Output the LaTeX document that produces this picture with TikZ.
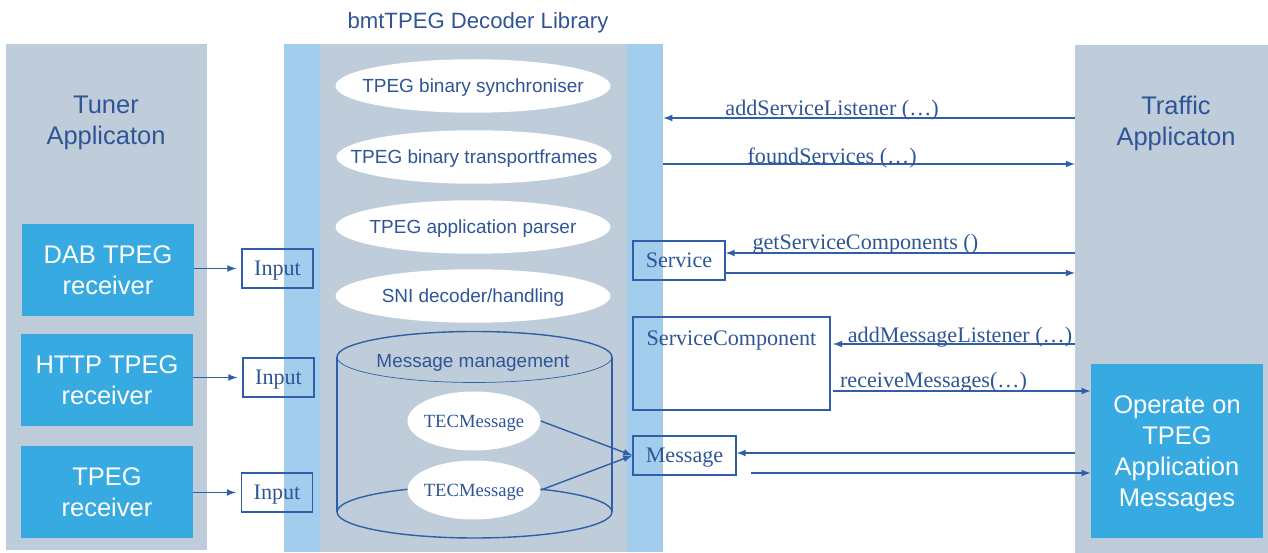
\documentclass[tikz,border=0pt]{standalone}
\usepackage{fontspec}
\setmainfont{Liberation Serif}
\setsansfont{Liberation Sans}
\usetikzlibrary{shapes.geometric}
\definecolor{panelgray}{HTML}{BFCDDA}
\definecolor{bandblue}{HTML}{A2CDEC}
\definecolor{recvblue}{HTML}{37AAE1}
\definecolor{txtblue}{HTML}{2F5597}
\definecolor{lineblue}{HTML}{2F5FA8}
\begin{document}
\begin{tikzpicture}[x=0.02cm,y=-0.02cm,
  panel/.style={fill=panelgray,inner sep=0pt},
  band/.style={fill=bandblue,inner sep=0pt,minimum width=0.72cm,minimum height=10.16cm},
  oval/.style={ellipse,fill=white,inner xsep=-2cm,inner ysep=-0.3cm,text depth=0pt,minimum width=5.5cm,minimum height=1.07cm,text=txtblue,font=\sffamily\fontsize{10.8}{13}\selectfont},
  tecoval/.style={ellipse,fill=white,inner xsep=-1cm,inner ysep=-0.3cm,text depth=0pt,minimum width=2.66cm,minimum height=1.18cm,text=txtblue,font=\fontsize{10.6}{12}\selectfont},
  inbox/.style={draw=lineblue,line width=0.7pt,inner sep=0pt,text depth=0pt,minimum height=0.78cm,text=txtblue,font=\fontsize{12.6}{14}\selectfont},
  recv/.style={fill=recvblue,inner sep=0pt,text depth=0pt,minimum width=3.44cm,minimum height=1.84cm,align=center,text=white,font=\sffamily\fontsize{14.5}{17.6}\selectfont},
  paneltxt/.style={align=center,text depth=0pt,text=txtblue,font=\sffamily\fontsize{14.5}{17.9}\selectfont},
  msg/.style={inner sep=0pt,text=txtblue,font=\fontsize{12.6}{14}\selectfont},
  arr/.style={->,>=latex,line width=0.8pt,draw=lineblue}]
\useasboundingbox (0,0) rectangle (1268,553);
% panels
\node[panel,minimum width=4.02cm,minimum height=10.12cm] (tuner) at (106.5,297) {};
\node[panel,minimum width=6.14cm,minimum height=10.16cm] (lib) at (473.5,298) {};
\node[band] (lband) at (302,298) {};
\node[band] (rband) at (645,298) {};
\node[panel,minimum width=3.86cm,minimum height=10.16cm] (traffic) at (1171.5,299) {};
\node[paneltxt] (tunertxt) at (106,120) {Tuner\\Applicaton};
\node[paneltxt] (traffictxt) at (1176,121) {Traffic\\Applicaton};
\node[text=txtblue,font=\sffamily\fontsize{12.6}{15}\selectfont] (libtxt) at (478,23) {bmtTPEG Decoder Library};
% decoder stages
\node[oval] (sync) at (473,86) {TPEG binary synchroniser};
\node[oval] (frames) at (474,157) {TPEG binary transportframes};
\node[oval] (parser) at (473,227) {TPEG application parser};
\node[oval] (sni) at (473,296) {SNI decoder/handling};
% message store
\draw[lineblue,line width=0.8pt] (337,357) arc[start angle=180,end angle=0,x radius=2.75cm,y radius=0.51cm];
\draw[lineblue,line width=0.4pt] (337,357) arc[start angle=180,end angle=360,x radius=2.75cm,y radius=0.51cm];
\draw[lineblue,line width=0.8pt] (337,357) -- (337,512) (612,357) -- (612,512);
\draw[lineblue,line width=0.8pt] (474.5,512) ellipse[x radius=2.75cm,y radius=0.52cm];
\node[text depth=0pt,text=txtblue,font=\sffamily\fontsize{10.8}{13}\selectfont] (mmtxt) at (473,361) {Message management};
\node[tecoval] (tec1) at (474,421) {TECMessage};
\node[tecoval] (tec2) at (474,490) {TECMessage};
% receivers
\node[recv] (dab) at (108,270) {DAB TPEG\\receiver};
\node[recv] (http) at (107,380) {HTTP TPEG\\receiver};
\node[recv] (tpeg) at (107,492) {TPEG\\receiver};
\node[recv,minimum height=3.48cm] (operate) at (1177,451) {Operate on\\TPEG\\Application\\Messages};
% boxes
\node[inbox,minimum width=1.42cm] (in1) at (277.5,268.5) {Input};
\node[inbox,minimum width=1.42cm] (in2) at (278.5,377.5) {Input};
\node[inbox,minimum width=1.42cm] (in3) at (277,492.5) {Input};
\node[inbox,minimum width=1.84cm] (svc) at (679,260.5) {Service};
\node[inbox,minimum width=3.94cm,minimum height=1.86cm,label={[msg,anchor=north,yshift=-0.28cm]north:ServiceComponent}] (sc) at (731.5,363.5) {};
\node[inbox,minimum width=2.06cm] (msgbox) at (684.5,455.5) {Message};
% connectors
\draw[arr,shorten >=0.1cm] (dab.east |- in1) -- (in1);
\draw[arr,shorten >=0.1cm] (http.east |- in2) -- (in2);
\draw[arr,shorten >=0.1cm] (tpeg.east |- in3) -- (in3);
\draw[arr] (tec1.east) -- (msgbox.west);
\draw[arr] (tec2.east) -- (msgbox.west);
\coordinate (t1) at (1075,118);
\coordinate (t2) at (1075,164);
\coordinate (t3) at (1075,253);
\coordinate (t4) at (1075,273);
\coordinate (t5) at (1075,344);
\coordinate (t6) at (1075,453);
\coordinate (rm) at (833,391);
\coordinate (mo) at (751,473);
\draw[arr] (t1) -- node[msg,above,pos=0.59,yshift=-0.06cm]{addServiceListener (…)} (rband.east |- t1);
\draw[arr] (rband.east |- t2) -- node[msg,above,pos=0.41,yshift=-0.1cm]{foundServices (…)} (t2);
\draw[arr] (t3) -- node[msg,above,pos=0.6,yshift=-0.04cm]{getServiceComponents ()} (svc.east |- t3);
\draw[arr] (svc.east |- t4) -- (t4);
\draw[arr] (t5) -- node[msg,above,pos=0.475,yshift=-0.08cm]{addMessageListener (…)} (rm |- t5);
\draw[arr] (rm) -- node[msg,above,pos=0.39,yshift=-0.04cm]{receiveMessages(…)} (operate.west |- rm);
\draw[arr] (t6) -- (msgbox.east |- t6);
\draw[arr] (mo) -- (operate.west |- mo);
\end{tikzpicture}
\end{document}
